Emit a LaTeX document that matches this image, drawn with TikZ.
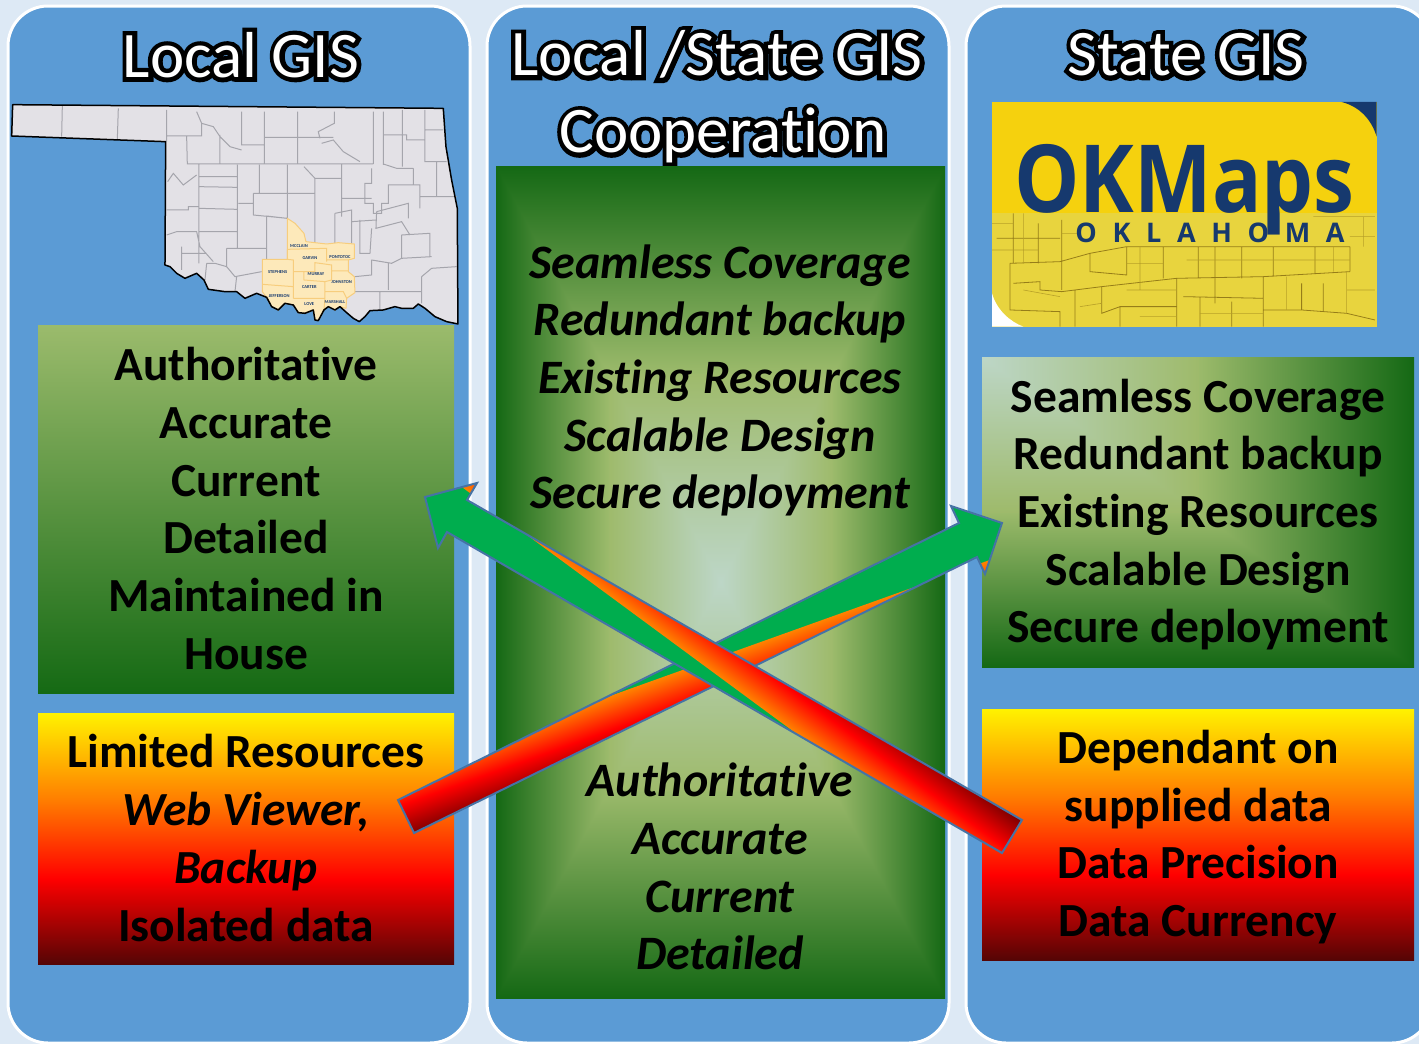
\documentclass[tikz,border=0pt]{standalone}
\usepackage{fontspec}
\setmainfont{Carlito}[Ligatures=NoCommon]
\newfontface\halofont{Carlito}[FakeBold=14,Ligatures=NoCommon]
\newfontface\logofont{Open Sans Bold}
\newfontface\logospaced{Open Sans Bold}[LetterSpace=58]
\usepackage{tikz}

\definecolor{paleback}{RGB}{221,233,245}
\definecolor{panelblue}{RGB}{91,155,213}
\definecolor{oliveleaf}{RGB}{155,187,108}
\definecolor{deepleaf}{RGB}{21,106,20}
\definecolor{arrowgreen}{RGB}{0,173,78}
\definecolor{arrowedge}{RGB}{70,115,165}
\definecolor{arroworange}{RGB}{255,130,0}
\definecolor{arrowdark}{RGB}{125,0,0}
\definecolor{hotdark}{RGB}{85,5,5}
\definecolor{hotyellow}{RGB}{255,242,0}
\definecolor{hotorange}{RGB}{255,128,0}
\definecolor{mapfill}{RGB}{227,225,230}
\definecolor{mapline}{RGB}{165,165,172}
\definecolor{peach}{RGB}{253,233,186}
\definecolor{peachline}{RGB}{247,205,125}
\definecolor{logoyellow}{RGB}{245,209,14}
\definecolor{logomap}{RGB}{232,212,62}
\definecolor{logoline}{RGB}{150,125,25}
\definecolor{logonavy}{RGB}{22,57,110}

\newcommand{\leaframp}{dup 0.5 lt {2 mul dup dup -0.12 mul 0.74 add 3 1 roll -0.11 mul 0.84 add exch -0.36 mul 0.78 add} {0.5 sub 2 mul dup dup -0.53 mul 0.61 add 3 1 roll -0.32 mul 0.73 add exch -0.34 mul 0.42 add} ifelse}
\pgfdeclarefunctionalshading{leafcentre}{\pgfpoint{-50bp}{-50bp}}{\pgfpoint{50bp}{50bp}}{}{abs exch abs 2 copy lt {exch} if pop 25 div \leaframp}
\pgfdeclarefunctionalshading{leafcorner}{\pgfpoint{-50bp}{-50bp}}{\pgfpoint{50bp}{50bp}}{}{neg 25 add exch 25 add 2 copy lt {exch} if pop 50 div \leaframp}
\pgfdeclareverticalshading{hotramp}{100bp}{color(0bp)=(hotdark);color(25bp)=(hotdark);color(42bp)=(red);color(58bp)=(hotorange);color(75bp)=(hotyellow);color(100bp)=(hotyellow)}

\newcommand{\halotext}[1]{\rlap{\color{black}\halofont #1}#1}
\newcommand{\crossup}{(398,800) -- (414,833) -- (977,557) -- (985,574) -- (1002,523) -- (951,506) -- (959,523) -- cycle}
\newcommand{\crossdown}{(425,497) -- (477,483) -- (467,500) -- (1022,820) -- (1002,853) -- (447,532) -- (438,548) -- cycle}

\begin{document}
\begin{tikzpicture}[x=1pt, y=-1pt, node distance=479pt,
		panel node/.style={draw=white, line width=3pt, fill=panelblue, rounded corners=40pt, minimum height=1037pt},
		title node/.style={text=white, align=center, inner sep=0pt, font=\fontsize{65}{77}\selectfont},
		body node/.style={align=center, inner sep=0pt, text=black, font=\fontsize{47.5}{57.7}\selectfont\bfseries},
		slant node/.style={body node, font=\fontsize{48}{57.7}\selectfont\bfseries\itshape},
		green node/.style={shade, top color=oliveleaf, bottom color=deepleaf, inner sep=0pt, minimum width=416pt},
		hot node/.style={shade, shading=hotramp, inner sep=0pt, minimum width=416pt},
		county tag/.style={inner sep=0pt, text=logonavy, font=\fontsize{4.5}{5}\selectfont\bfseries},
		cross edge/.style={draw=arrowedge, line width=2pt, line join=miter}]

	\useasboundingbox (0,0) rectangle (1419,1044);
	\fill[paleback] (0,0) rectangle (1419,1044);

	\node[panel node, minimum width=462pt] (localpanel) at (239,524.5) {};
	\node[panel node, minimum width=462pt] (bothpanel) [right of=localpanel] {};
	\node[panel node, minimum width=466pt] (statepanel) at (1199,524.5) {};

	\node[title node] (localtitle) at (241,55) {\halotext{Local GIS}};
	\node[title node] (bothtitle) at (723,97) {\halotext{Local /State GIS}\kern12pt\\\halotext{Cooperation}};
	\node[title node] (statetitle) at (1186,55) {\halotext{State GIS}};

	% state map
	\begin{scope}[shift={(0,90)}, x=0.3333pt, y=-0.3333pt]
		\fill[mapfill] (38,44) -- (1330,55) -- (1338,170) -- (1355,270) -- (1372,355) -- (1374,702) -- (1340,695) -- (1305,680) -- (1275,655) -- (1255,642) -- (1240,655) -- (1205,655) -- (1185,650) -- (1150,660) -- (1110,662) -- (1095,680) -- (1078,695) -- (1060,685) -- (1040,668) -- (1020,650) -- (1005,660) -- (985,650) -- (972,660) -- (955,692) -- (945,690) -- (940,660) -- (915,670) -- (895,668) -- (880,645) -- (855,640) -- (835,660) -- (815,650) -- (800,622) -- (770,610) -- (735,625) -- (710,605) -- (675,605) -- (625,598) -- (612,570) -- (590,550) -- (555,565) -- (530,550) -- (510,530) -- (495,525) -- (497,155) -- (35,138) -- cycle;
		\draw[mapline, line width=1pt]
			(187,48) -- (185,140) (355,55) -- (352,148)
			(500,60) -- (500,155) (500,138) -- (605,138) -- (605,100) -- (590,65)
			(560,140) -- (562,222) -- (1120,222) (660,135) -- (660,222)
			(605,100) -- (640,110) -- (660,140) -- (690,170) -- (725,180) (725,65) -- (725,165) -- (793,165)
			(793,65) -- (793,222) (893,65) -- (893,222) (793,142) -- (1000,142)
			(1003,65) -- (1003,100) -- (955,125) -- (960,145)
			(965,160) -- (1000,150) -- (1030,185) -- (1080,215) (1120,65) -- (1120,222)
			(1150,65) -- (1150,225) (1207,60) -- (1207,230) (1275,60) -- (1275,215) -- (1340,215) (1275,120) -- (1330,120)
			(1150,135) -- (1220,135) -- (1220,150) -- (1275,150) (1150,222) -- (1190,235) -- (1240,235)
			(597,222) -- (597,520) (500,360) -- (565,360) -- (565,350) -- (597,350)
			(597,260) -- (710,260) (597,290) -- (710,292) (597,355) -- (710,358)
			(712,225) -- (712,475) (597,425) -- (712,425)
			(503,275) -- (520,250) -- (550,285) -- (590,255)
			(778,225) -- (778,310) (862,225) -- (862,385) (760,310) -- (945,310) (760,310) -- (760,375) -- (862,385) (715,340) -- (760,340)
			(945,265) -- (945,460) (945,265) -- (1025,265) (912,230) -- (945,265) (1025,222) -- (1025,380) (1025,325) -- (1115,325)
			(1005,370) -- (1055,360) -- (1055,460) (1005,370) -- (1005,460)
			(1115,235) -- (1115,280) -- (1095,280) -- (1095,340) -- (1120,340) -- (1120,370) -- (1145,370) -- (1145,340) -- (1165,340) -- (1165,285) -- (1260,285) -- (1260,355)
			(1240,235) -- (1240,285) (1260,320) -- (1370,320) (1310,215) -- (1310,320)
			(1130,365) -- (1225,340) -- (1225,385) (1130,365) -- (1128,415) -- (1205,395) -- (1230,435)
			(1205,435) -- (1290,430) -- (1290,500) (1205,435) -- (1205,505) (1115,510) -- (1175,520) -- (1205,505) -- (1295,500)
			(1165,520) -- (1165,600) (1140,605) -- (1265,605) (1295,535) -- (1370,530) (1265,560) -- (1295,535) (1265,560) -- (1265,640)
			(1050,605) -- (1140,605) -- (1140,660) (1065,560) -- (1115,555) -- (1115,510)
			(1055,395) -- (1128,390) (1080,390) -- (1080,490) -- (1110,490) -- (1115,415)
			(800,378) -- (800,508) (800,378) -- (860,385) (680,475) -- (800,475) (680,475) -- (680,530) -- (705,560) -- (785,545)
			(710,560) -- (705,605) (620,520) -- (645,520) -- (680,530) (620,520) -- (615,570)
			(500,435) -- (530,425) -- (590,425) -- (600,470) -- (640,515) (545,470) -- (545,540) (545,490) -- (620,490);
		\filldraw[fill=peach, draw=peachline, line width=1pt] (862,385) -- (885,400) -- (912,430) -- (918,455) -- (980,462) -- (1015,458) -- (1063,462) -- (1063,505) -- (1045,510) -- (1045,545) -- (1063,560) -- (1065,608) -- (1040,625) -- (1038,655) -- (1020,650) -- (1005,660) -- (985,650) -- (972,660) -- (955,692) -- (945,690) -- (940,660) -- (915,670) -- (895,668) -- (880,645) -- (855,640) -- (835,660) -- (815,650) -- (800,622) -- (787,605) -- (787,508) -- (862,508) -- cycle;
		\draw[peachline, line width=1pt] (862,478) -- (980,475) -- (980,515) (862,478) -- (862,508) -- (880,510) -- (880,625)
			(787,583) -- (880,590) (880,545) -- (945,545) -- (945,518) -- (995,525) -- (995,570) -- (975,575) -- (975,625)
			(912,545) -- (912,570) -- (975,575) (980,510) -- (1045,510) (995,543) -- (1045,543)
			(975,605) -- (1030,605) -- (1040,625) (880,625) -- (975,625) (975,625) -- (972,660);
		\draw[black, line width=1.5pt, line join=round] (38,44) -- (1330,55) -- (1338,170) -- (1355,270) -- (1372,355) -- (1374,702) -- (1340,695) -- (1305,680) -- (1275,655) -- (1255,642) -- (1240,655) -- (1205,655) -- (1185,650) -- (1150,660) -- (1110,662) -- (1095,680) -- (1078,695) -- (1060,685) -- (1040,668) -- (1020,650) -- (1005,660) -- (985,650) -- (972,660) -- (955,692) -- (945,690) -- (940,660) -- (915,670) -- (895,668) -- (880,645) -- (855,640) -- (835,660) -- (815,650) -- (800,622) -- (770,610) -- (735,625) -- (710,605) -- (675,605) -- (625,598) -- (612,570) -- (590,550) -- (555,565) -- (530,550) -- (510,530) -- (495,525) -- (497,155) -- (35,138) -- cycle;
		\node[county tag] (mcclain) at (897,467) {MCCLAIN};
		\node[county tag] (garvin) at (930,505) {GARVIN};
		\node[county tag] (pontotoc) at (1020,500) {PONTOTOC};
		\node[county tag] (stephens) at (833,547) {STEPHENS};
		\node[county tag] (murray) at (948,552) {MURRAY};
		\node[county tag] (carter) at (928,592) {CARTER};
		\node[county tag] (johnston) at (1025,575) {JOHNSTON};
		\node[county tag] (jefferson) at (838,618) {JEFFERSON};
		\node[county tag] (love) at (928,642) {LOVE};
		\node[county tag] (marshall) at (1005,635) {MARSHALL};
	\end{scope}

	% logo
	\fill[logoyellow] (992,102) rectangle (1377,213);
	\fill[logomap] (992,213) rectangle (1377,327);
	\begin{scope}[shift={(980,90)}, x=0.3333pt, y=-0.3333pt]
		\fill[logonavy] (1085,36) .. controls (1140,50) and (1175,90) .. (1190,140) -- (1190,36) -- cycle;
		\fill[white] (36,610) .. controls (50,660) and (90,695) .. (130,710) -- (36,710) -- cycle;
		\draw[logoline, line width=0.8pt]
			(90,520) -- (240,515) -- (330,490) -- (440,470) -- (1110,470)
			(175,400) -- (175,520) (245,390) -- (245,600) (100,370) -- (100,520)
			(50,445) -- (240,445) (90,520) -- (90,660) -- (240,665) -- (240,710)
			(100,580) -- (180,575) -- (180,600) -- (245,605) -- (285,600) -- (365,590) -- (590,565) -- (850,560) -- (1110,545)
			(285,600) -- (285,710) (365,590) -- (365,670) -- (420,650) -- (590,650)
			(330,490) -- (330,545) -- (440,555) -- (440,470) (420,650) -- (420,710)
			(550,470) -- (550,565) (590,565) -- (590,710) (655,470) -- (655,565) (705,470) -- (705,640)
			(785,470) -- (785,565) (880,470) -- (880,560) (1005,470) -- (1005,550) (1110,470) -- (1110,545)
			(610,620) -- (850,625) (660,620) -- (660,710) (755,635) -- (755,710) (850,560) -- (850,710)
			(850,660) -- (965,660) -- (965,580) (965,660) -- (1100,670) -- (1185,690) (1030,580) -- (1030,665);
		\draw[logoline!60!logomap, line width=0.6pt]
			(36,400) -- (100,400) (36,480) -- (175,480) (245,430) -- (300,430) (130,370) -- (130,520)
			(440,520) -- (550,520) (480,470) -- (480,600) (620,510) -- (1110,510) (1060,470) -- (1060,545)
			(440,600) -- (590,600) (920,560) -- (920,660) (1100,600) -- (1185,600) (1100,545) -- (1100,670)
			(130,600) -- (240,620) (300,650) -- (365,640) (480,680) -- (590,680) (660,670) -- (850,670)
			(1000,380) -- (1185,380) (1150,380) -- (1150,470) (1185,440) -- (1110,440);
	\end{scope}
	\node[inner sep=0pt, text=logonavy, font=\fontsize{94}{94}\selectfont] (okmaps) at (1184.5,190) {\scalebox{0.875}[1]{\logofont OKMaps}};
	\node[inner sep=0pt, text=logonavy, font=\fontsize{27}{27}\selectfont] (oklahoma) at (1210,233) {\logospaced OKLAHOMA};

	% text boxes
	\node[green node, minimum height=368pt] (localgood) at (246,509) {};
	\node[hot node, minimum height=251pt, node distance=329.5pt] (localbad) [below of=localgood] {};
	\node[shade, shading=leafcentre, inner sep=0pt, minimum width=449pt, minimum height=832pt] (bothbox) at (720.5,582) {};
	\node[shade, shading=leafcorner, inner sep=0pt, minimum width=432pt, minimum height=310pt] (stategood) at (1198,512) {};
	\node[hot node, minimum width=432pt, minimum height=251pt, node distance=322.5pt] (statebad) [below of=stategood] {};

	\node[body node, yshift=0.5pt] (localgoodtext) at (localgood) {Authoritative\\Accurate\\Current\\Detailed\\Maintained in\\House};
	\node[body node, yshift=0.5pt] (localbadtext) at (localbad) {Limited Resources\\\textit{Web Viewer,}\\\textit{Backup}\\Isolated data};
	\node[slant node] (bothtop) at (720,380.5) {Seamless Coverage\\Redundant backup\\Existing Resources\\Scalable Design\\Secure deployment};
	\node[slant node] (bothlow) at (720,866.5) {Authoritative\\Accurate\\Current\\Detailed};
	\node[body node, yshift=-2.5pt] (stategoodtext) at (stategood) {Seamless Coverage\\Redundant backup\\Existing Resources\\Scalable Design\\Secure deployment};
	\node[body node, yshift=-2.5pt] (statebadtext) at (statebad) {Dependant on\\supplied data\\Data Precision\\Data Currency};

	% crossing arrows
	\fill[arrowgreen] \crossup;
	\begin{scope}
		\clip \crossup;
		\begin{scope}[transform canvas={shift={(906pt,-590pt)}, rotate=199.7}]
			\shade[top color=arrowdark, bottom color=arroworange, middle color=red] (-800,0) rectangle (800,-64);
		\end{scope}
	\end{scope}
	\draw[cross edge] \crossup;

	\fill[arrowgreen] \crossdown;
	\begin{scope}
		\clip \crossdown;
		\begin{scope}[transform canvas={shift={(531pt,-538pt)}, rotate=-36.4}]
			\shade[top color=arrowdark, bottom color=arroworange, middle color=red] (-800,0) rectangle (800,-64);
		\end{scope}
	\end{scope}
	\draw[cross edge] \crossdown;
\end{tikzpicture}
\end{document}
